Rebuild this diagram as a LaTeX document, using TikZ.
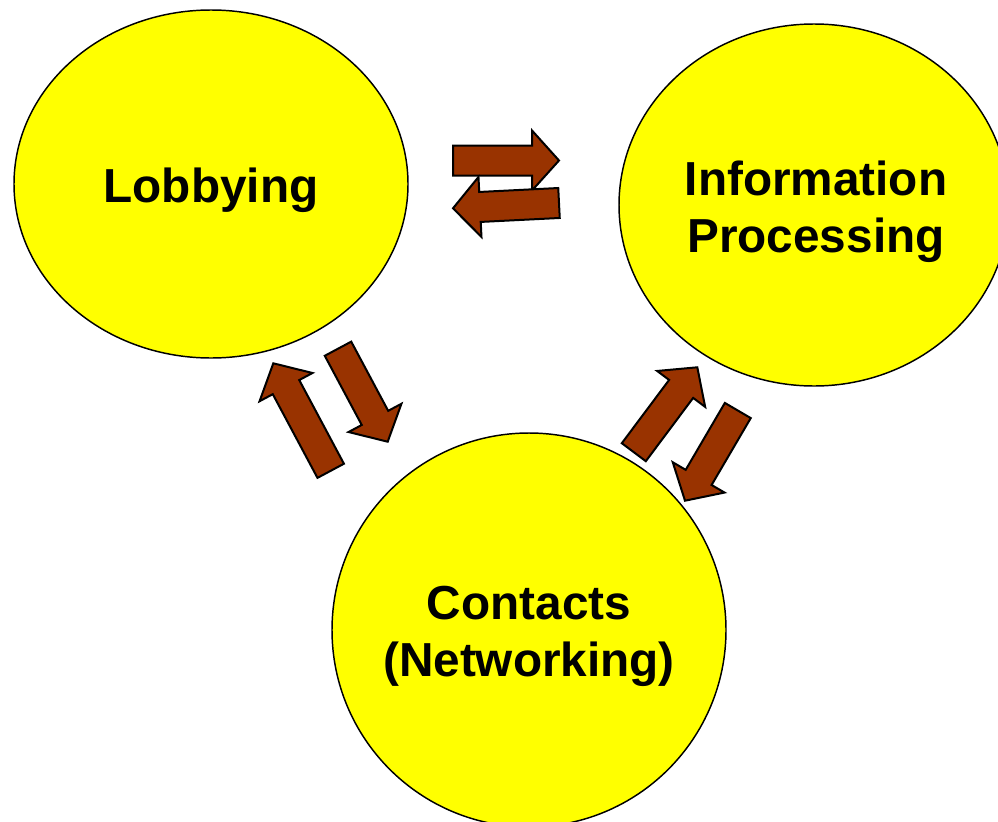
\documentclass[tikz,border=0pt]{standalone}
\usepackage{fontspec}
\setmainfont{Liberation Sans}
\usetikzlibrary{shapes.geometric,calc}
\definecolor{bubble}{HTML}{FFFF00}
\definecolor{brick}{HTML}{993300}
\tikzset{
  bubble/.style={ellipse, draw=black, line width=1.1pt, fill=bubble, inner sep=0pt},
  bubbletext/.style={anchor=base, inner sep=0pt, align=center,
    font=\fontsize{35.8}{43.1}\selectfont\bfseries},
  barrow/.style={draw=black, fill=brick, line width=1.5pt, line join=miter}
}
\newcommand\blockarrow[2]{%
  \coordinate (hb) at ($(#2)!20.25pt!(#1)$);
  \draw[barrow] ($(#1)!11.25pt!90:(#2)$) -- ($(hb)!11.25pt!90:(#2)$) -- ($(hb)!22.5pt!90:(#2)$)
    -- (#2) -- ($(hb)!22.5pt!-90:(#2)$) -- ($(hb)!11.25pt!-90:(#2)$) -- ($(#1)!11.25pt!-90:(#2)$) -- cycle;
}
\begin{document}
\begin{tikzpicture}[x=0.75pt,y=-0.75pt]
\useasboundingbox (0,0) rectangle (998,821);
\node[bubble, minimum width=295.5pt, minimum height=261pt] (lob) at (211,184) {};
\node[bubble, minimum width=292.5pt, minimum height=271.5pt] (info) at (814,205) {};
\node[bubble, minimum width=295.5pt, minimum height=295.5pt] (con) at (529,630) {};
\node[bubbletext] (loblabel) at (211,202) {Lobbying};
\node[bubbletext] (infolabel) at (816,252.7) {Information\\Processing};
\node[bubbletext] (conlabel) at (529,676.7) {Contacts\\(Networking)};
% arrow end points
\coordinate (a1t) at (453,160.5); \coordinate (a1p) at (559,160.5);
\coordinate (a2t) at (559,203);   \coordinate (a2p) at (453,208.3);
\coordinate (a3t) at (330.7,470.8); \coordinate (a3p) at (273.3,363.3);
\coordinate (a4t) at (338,348.7); \coordinate (a4p) at (387.7,441.7);
\coordinate (a5t) at (633.8,452.2); \coordinate (a5p) at (697.3,367.3);
\coordinate (a6t) at (737.8,410.5); \coordinate (a6p) at (685,500.7);
\blockarrow{a1t}{a1p}
\blockarrow{a2t}{a2p}
\blockarrow{a3t}{a3p}
\blockarrow{a4t}{a4p}
\blockarrow{a5t}{a5p}
\blockarrow{a6t}{a6p}
\end{tikzpicture}
\end{document}
